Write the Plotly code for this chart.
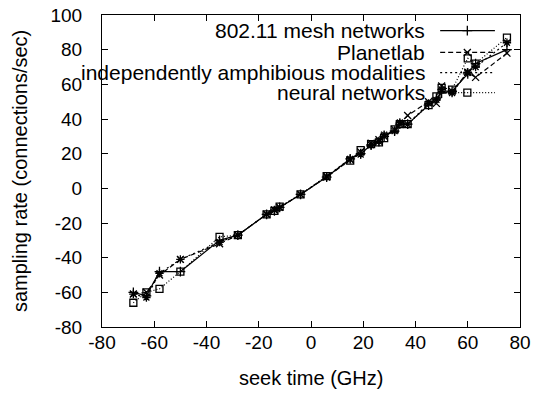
import plotly.graph_objects as go

# ---- data ----
seek_time = [-68, -63, -58, -50, -35, -28, -17, -14, -12, -4, 6, 15, 19, 23, 26, 28, 32, 34, 37, 45, 48, 50, 54, 60, 63, 75]
mesh_80211 = [-60, -62, -48, -48, -30, -27, -15, -13, -11, -3.5, 6.5, 17, 20, 25, 27, 30, 33, 37, 37, 48, 52, 55, 56, 66, 72, 80]
planetlab = [-61, -60, -50, -41, -32, -27, -15, -12.5, -11, -3.5, 6.5, 16.5, 21, 26, 28, 30, 34, 37, 42, 50, 49, 59, 56, 67, 64, 78]
amphibious = [-61, -63, -49, -41, -31, -27, -15, -12.5, -11, -3.5, 7, 17, 19.5, 25, 27, 31, 33, 38, 37, 49, 51, 57, 55, 67, 70, 84]
neural = [-66, -60, -58, -48, -28, -27, -15, -13, -10.5, -3.5, 7, 16, 22, 25.5, 26.5, 29, 34, 37, 37, 48, 53, 58, 57, 75, 72, 87]

series_names = ["802.11 mesh networks", "Planetlab", "independently amphibious modalities", "neural networks"]
x_ticks = [-80, -60, -40, -20, 0, 20, 40, 60, 80]
y_ticks = [-80, -60, -40, -20, 0, 20, 40, 60, 80, 100]

FONT = "Liberation Sans, Arial, sans-serif"
FS_TICK = 19
FS_TEXT = 21
styles = [
    dict(dash="solid", symbol="cross-thin-open"),
    dict(dash="5px,3px", symbol="x-thin-open"),
    dict(dash="2px,3px", symbol="asterisk-open"),
    dict(dash="1px,2px", symbol="square-open"),
]

fig = go.Figure()
for name, ys, st in zip(series_names, [mesh_80211, planetlab, amphibious, neural], styles):
    fig.add_trace(go.Scatter(
        x=seek_time, y=ys, mode="lines+markers", name=name, showlegend=False,
        line=dict(color="black", width=1.2, dash=st["dash"]),
        marker=dict(symbol=st["symbol"], size=7, color="black",
                    line=dict(color="black", width=1.3)),
    ))

# manual gnuplot-style legend (text right, sample on right)
leg_rows = [0.950, 0.880, 0.815, 0.751]
for name, st, yy in zip(series_names, styles, leg_rows):
    fig.add_trace(go.Scatter(
        x=[0.809, 0.940], y=[yy, yy], xaxis="x2", yaxis="y2", mode="lines",
        showlegend=False, hoverinfo="skip",
        line=dict(color="black", width=1.2, dash=st["dash"]),
    ))
    fig.add_trace(go.Scatter(
        x=[0.874], y=[yy], xaxis="x2", yaxis="y2", mode="markers",
        showlegend=False, hoverinfo="skip",
        marker=dict(symbol=st["symbol"], size=7, color="black",
                    line=dict(color="black", width=1.3)),
    ))
    fig.add_annotation(
        x=0.778, y=yy, xref="paper", yref="paper", text=name, showarrow=False,
        xanchor="right", yanchor="middle", font=dict(family=FONT, size=FS_TEXT, color="black"),
    )

# axis titles as annotations for exact placement
fig.add_annotation(x=0.5, y=-0.165, xref="paper", yref="paper", text="seek time (GHz)",
                   showarrow=False, xanchor="center", yanchor="middle",
                   font=dict(family=FONT, size=20, color="black"))
fig.add_annotation(x=-0.196, y=0.5, xref="paper", yref="paper", text="sampling rate (connections/sec)",
                   showarrow=False, xanchor="center", yanchor="middle", textangle=-90,
                   font=dict(family=FONT, size=20, color="black"))

axis_common = dict(
    showline=True, linecolor="black", linewidth=1, mirror="allticks",
    ticks="inside", ticklen=6, tickcolor="black", showgrid=False, zeroline=False,
    automargin=False,
    tickfont=dict(family=FONT, size=FS_TICK, color="black"),
)
fig.update_layout(
    width=534, height=394,
    margin=dict(l=102, r=14, t=15, b=67),
    paper_bgcolor="white", plot_bgcolor="white",
    xaxis=dict(range=[-80, 80], tickvals=x_ticks, ticktext=[str(v) for v in x_ticks],
               ticklabelstandoff=-2, **axis_common),
    yaxis=dict(range=[-80, 100], tickvals=y_ticks, ticktext=[str(v) for v in y_ticks],
               ticklabelstandoff=15, **axis_common),
    xaxis2=dict(overlaying="x", range=[0, 1], visible=False),
    yaxis2=dict(overlaying="y", range=[0, 1], visible=False),
    showlegend=False,
)

fig.write_html("out.html", config={"displayModeBar": False},
               post_script="document.body.style.margin='0px';")
